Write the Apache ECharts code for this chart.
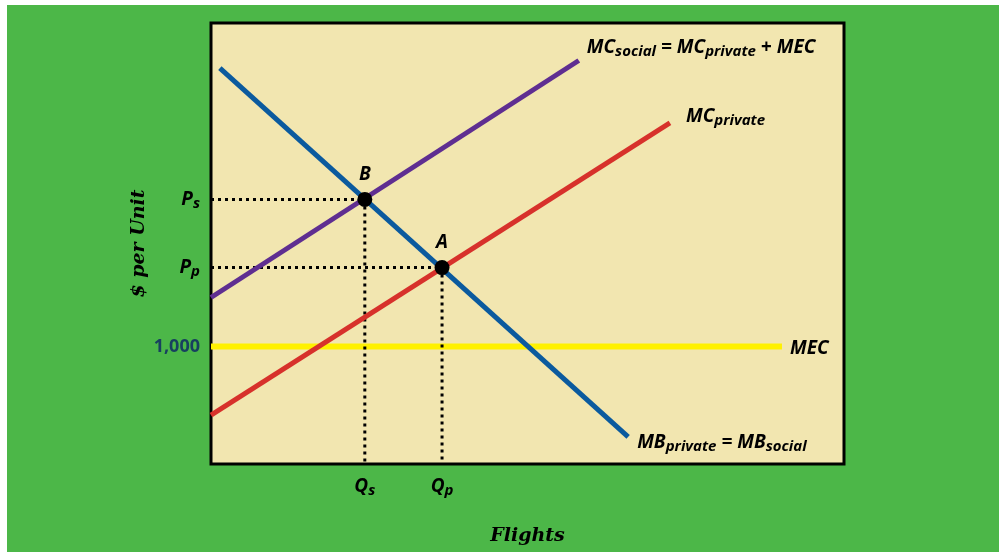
<!DOCTYPE html>
<html>
<head>
<meta charset="utf-8">
<title>Negative externality: flights</title>
<script src="https://cdn.jsdelivr.net/npm/echarts@6/dist/echarts.min.js"></script>
<style>
  html, body { margin: 0; padding: 0; background: #ffffff; }
  #chart { position: absolute; left: 7px; top: 5px; width: 992px; height: 547px; }
</style>
</head>
<body>
<div id="chart"></div>
<script>
// Curves, as [flights, $ per unit] end points
const mbCurve = [[1.4, 3367], [65.9, 230]];          // MB private = MB social
const mcSocialCurve = [[0, 1416], [58.1, 3431]];      // MC social = MC private + MEC
const mcPrivateCurve = [[0, 416], [72.5, 2900]];      // MC private
const mecCurve = [[0, 1000], [90.2, 1000]];           // MEC (constant)

// Equilibrium points
const pointB = [24.3, 2250];   // social optimum (Qs, Ps)
const pointA = [36.5, 1670];   // private market (Qp, Pp)

// Tick labels
const yTickValues = [1000, pointA[1], pointB[1]];
const yTickLabels = ['{n|1,000}', '{m|P}{s|p}', '{m|P}{s|s}'];
const xTickValues = [pointB[0], pointA[0]];
const xTickLabels = ['{m|Q}{s|s}', '{m|Q}{s|p}'];

const SANS = '"Open Sans", "Noto Sans", sans-serif';
const SERIF = '"DejaVu Serif", serif';

const richText = {
  m: { fontFamily: SANS, fontSize: 19, fontWeight: 'bold', fontStyle: 'italic', color: '#000000', lineHeight: 22 },
  s: { fontFamily: SANS, fontSize: 15, fontWeight: 'bold', fontStyle: 'italic', color: '#000000', lineHeight: 14, padding: [8, 0, 0, 0] },
  n: { fontFamily: SANS, fontSize: 18, fontWeight: 'bold', color: '#17405f', lineHeight: 22 }
};

function endLabel(text, offset) {
  return {
    show: true,
    formatter: text,
    distance: 0,
    offset: offset,
    rich: richText
  };
}

const chart = echarts.init(document.getElementById('chart'), null, { renderer: 'canvas' });

chart.setOption({
  animation: false,
  backgroundColor: '#4cb748',
  grid: {
    show: true,
    left: 204, right: 155, top: 18, bottom: 88,
    backgroundColor: '#f2e6b0',
    borderColor: '#000000',
    borderWidth: 3
  },
  xAxis: {
    type: 'value', min: 0, max: 100,
    name: 'Flights', nameLocation: 'middle', nameGap: 63, nameMoveOverlap: false,
    nameTextStyle: { fontFamily: SERIF, fontSize: 19, fontWeight: 'bold', fontStyle: 'italic', color: '#000000' },
    axisLine: { show: false }, axisTick: { show: false }, splitLine: { show: false },
    axisLabel: {
      customValues: xTickValues,
      margin: 12,
      formatter: v => xTickLabels[xTickValues.indexOf(v)] || '',
      rich: richText
    }
  },
  yAxis: {
    type: 'value', min: 0, max: 3750,
    name: '$ per Unit', nameLocation: 'middle', nameGap: 62, nameRotate: 90, nameMoveOverlap: false,
    nameTextStyle: { fontFamily: SERIF, fontSize: 19, fontWeight: 'bold', fontStyle: 'italic', color: '#000000' },
    axisLine: { show: false }, axisTick: { show: false }, splitLine: { show: false },
    axisLabel: {
      customValues: yTickValues,
      margin: 11,
      formatter: v => yTickLabels[yTickValues.indexOf(v)] || '',
      rich: richText
    }
  },
  series: [
    {
      name: 'MEC', type: 'line', data: mecCurve, symbol: 'none',
      lineStyle: { color: '#fff100', width: 6 },
      endLabel: endLabel('{m|MEC}', [8, 2])
    },
    {
      name: 'Ps guide', type: 'line', symbol: 'none',
      data: [[0, pointB[1]], pointB, [pointB[0], 0]],
      lineStyle: { color: '#000000', width: 3, type: [3, 4] }
    },
    {
      name: 'Pp guide', type: 'line', symbol: 'none',
      data: [[0, pointA[1]], pointA, [pointA[0], 0]],
      lineStyle: { color: '#000000', width: 3, type: [3, 4] }
    },
    {
      name: 'MC private', type: 'line', data: mcPrivateCurve, symbol: 'none',
      lineStyle: { color: '#d7312b', width: 5 },
      endLabel: endLabel('{m|MC}{s|private}', [16, -6])
    },
    {
      name: 'MC social', type: 'line', data: mcSocialCurve, symbol: 'none',
      lineStyle: { color: '#5f2e91', width: 5 },
      endLabel: endLabel('{m|MC}{s|social}{m| = MC}{s|private}{m| + MEC}', [8, -13])
    },
    {
      name: 'MB', type: 'line', data: mbCurve, symbol: 'none',
      lineStyle: { color: '#0b5a9e', width: 5 },
      endLabel: endLabel('{m|MB}{s|private}{m| = MB}{s|social}', [9, 6])
    },
    {
      name: 'Equilibria', type: 'scatter', symbol: 'circle', symbolSize: 15, z: 10,
      itemStyle: { color: '#000000', opacity: 1 },
      data: [
        { value: pointB, name: 'B' },
        { value: pointA, name: 'A' }
      ],
      label: {
        show: true, position: 'top', distance: 8,
        formatter: p => p.name,
        fontFamily: SANS, fontSize: 19, fontWeight: 'bold', fontStyle: 'italic', color: '#000000'
      }
    }
  ]
});
</script>
</body>
</html>
